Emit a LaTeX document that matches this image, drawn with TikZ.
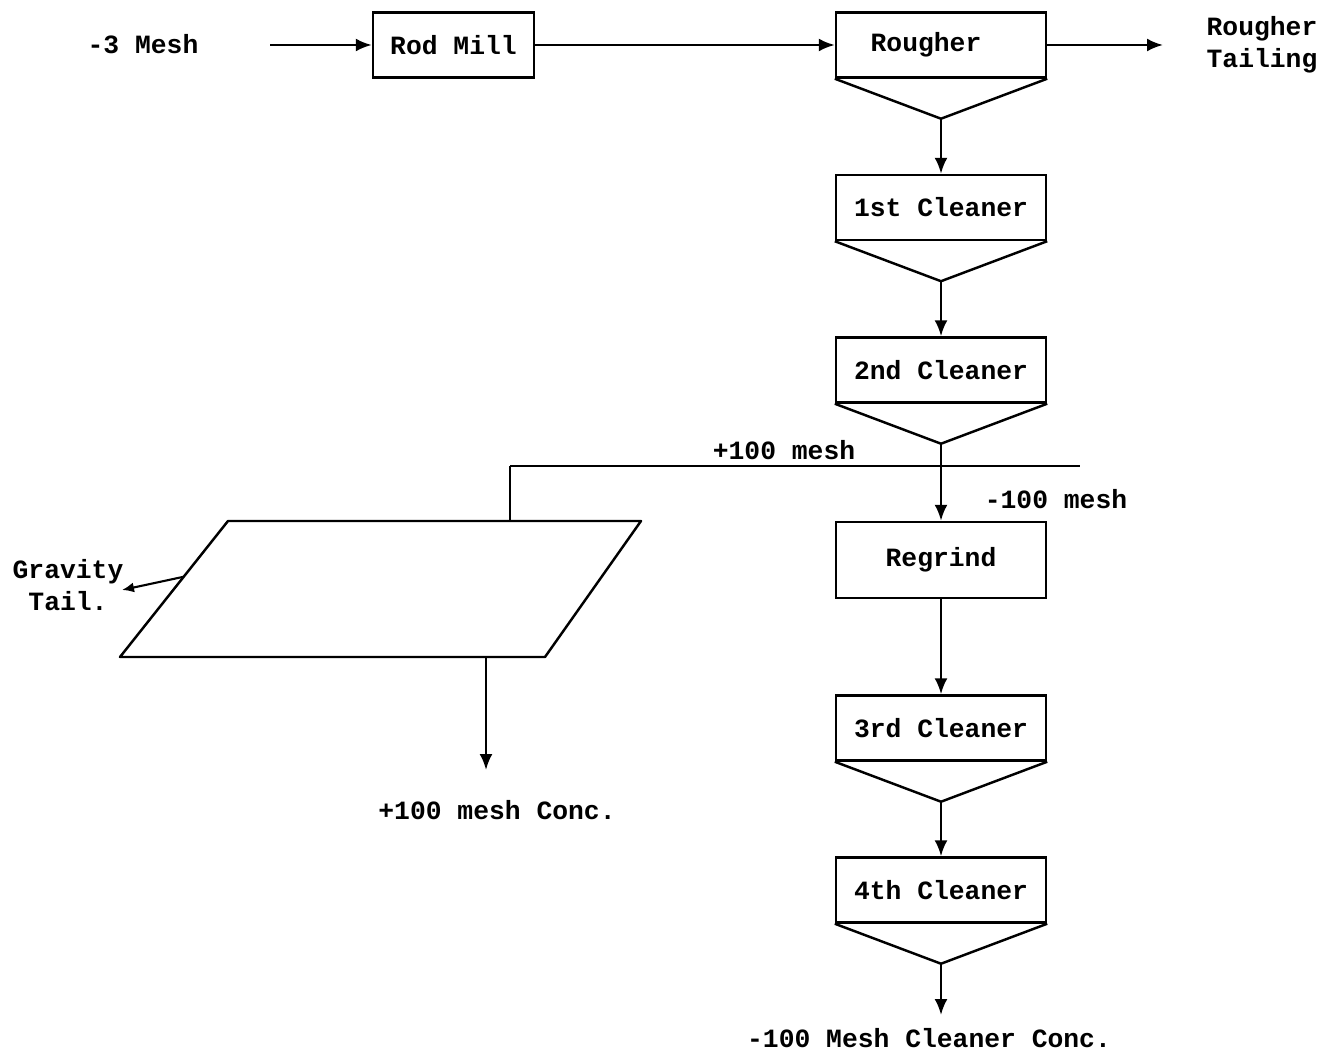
\documentclass[tikz,border=0pt]{standalone}
\usepackage{fontspec}
\setmonofont{Liberation Mono}
\usetikzlibrary{arrows.meta, positioning, calc}
\newcommand{\flowfont}{\ttfamily\bfseries\fontsize{15}{18}\selectfont}

\tikzset{
    cell/.style={draw, line width=1.4pt, minimum width=4.2cm, minimum height=1.3cm, inner sep=0pt, font=\flowfont},
    flow/.style={line width=1.4pt, -{Latex[length=3.2mm, width=2.6mm]}},
    pipe/.style={line width=1.4pt},
    tag/.style={font=\flowfont, inner sep=1pt, align=center},
}

\begin{document}
\begin{tikzpicture}[x=0.02cm, y=-0.02cm]
    \useasboundingbox (0,0) rectangle (1335,1053);

    % main line
    \node[tag] (feedtxt) at (143,44) {-3 Mesh};
    \coordinate (feed) at (270,45);
    \node[cell, minimum width=3.22cm] (rodmill) at (453.5,45) {Rod Mill};
    \node[cell] (rougher) at (941,45) {\hspace*{-0.6cm}Rougher};
    \coordinate (rtailend) at (1163,45);
    \node[tag, align=left] (rtail) at (1262,45) {Rougher\\Tailing};

    % cleaner column
    \node[cell] (clean1) at (941,207.5) {1st Cleaner};
    \node[cell] (clean2) at (941,370) {2nd Cleaner};
    \node[cell, minimum height=1.52cm] (regrind) at (941,560) {Regrind};
    \node[cell] (clean3) at (941,728) {3rd Cleaner};
    \node[cell] (clean4) at (941,890) {4th Cleaner};
    \coordinate (product) at (941,1015);
    \node[tag] (prodtxt) at (929,1038) {-100 Mesh Cleaner Conc.};

    % froth cones
    \foreach \u in {rougher, clean1, clean2, clean3, clean4} {
        \coordinate (\u-tip) at ($(\u.south)+(0,40)$);
        \draw[pipe, line join=round] (\u.south west) -- (\u-tip) -- (\u.south east);
    }

    \draw[flow] (feed) -- (rodmill);
    \draw[flow] (rodmill) -- (rougher);
    \draw[flow] (rougher) -- (rtailend);
    \draw[flow] (rougher-tip) -- (clean1);
    \draw[flow] (clean1-tip) -- (clean2);
    \draw[flow] (clean2-tip) -- (regrind);
    \draw[flow] (regrind) -- (clean3);
    \draw[flow] (clean3-tip) -- (clean4);
    \draw[flow] (clean4-tip) -- (product);

    % screen split
    \coordinate (splitL) at (510,466);
    \coordinate (splitR) at (1080,466);
    \draw[pipe] (splitL) -- (splitR);
    \node[tag] (plusmesh) at (784,450) {+100 mesh};
    \node[tag] (minusmesh) at (1056,499) {-100 mesh};

    % gravity table
    \coordinate (tblA) at (228,521);
    \coordinate (tblB) at (641,521);
    \coordinate (tblC) at (545,657);
    \coordinate (tblD) at (120,657);
    \draw[pipe, line join=round] (tblA) -- (tblB) -- (tblC) -- (tblD) -- cycle;
    \draw[pipe] (splitL) -- (splitL |- tblA);

    \coordinate (gtail) at ($(tblD)!0.59!(tblA)$);
    \coordinate (gtailend) at (122,590);
    \draw[line width=1.2pt, -{Latex[length=2.4mm, width=2mm]}] (gtail) -- (gtailend);
    \node[tag] (gtailtxt) at (68,585) {Gravity\\Tail.};

    \coordinate (tblout) at (486,657);
    \coordinate (conc) at (486,770);
    \draw[flow] (tblout) -- (conc);
    \node[tag] (conctxt) at (497,810) {+100 mesh Conc.};
\end{tikzpicture}
\end{document}
